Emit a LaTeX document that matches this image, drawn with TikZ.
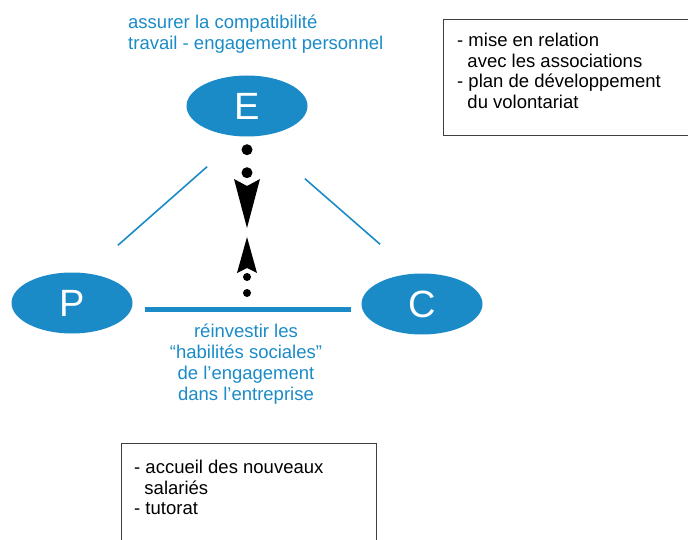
\documentclass[tikz,border=0pt]{standalone}
\usepackage{fontspec}
\setmainfont{Liberation Sans}
\usetikzlibrary{shapes.geometric, arrows.meta, positioning}
\definecolor{blue1}{RGB}{26, 139, 199}

\tikzset{
  pole/.style={ellipse, fill=blue1, minimum width=121pt, minimum height=61pt, inner sep=0pt, text=white, font=\fontsize{38}{38}\selectfont},
  thin link/.style={draw=blue1, line width=1.6pt},
  thick link/.style={draw=blue1, line width=5pt},
  bluetext/.style={text=blue1, inner sep=0pt, font=\fontsize{18.5}{21}\selectfont},
  listbox/.style={draw=black!75, line width=1pt, inner sep=0pt, anchor=north west},
  listtext/.style={inner sep=0pt, align=left, anchor=north west, font=\fontsize{18.5}{20.5}\selectfont},
  dotline/.style={line cap=round, dash pattern=on 0pt off #1},
}

\begin{document}
\begin{tikzpicture}[x=1pt, y=-1pt]
  \useasboundingbox (0,0) rectangle (688,540);
  \clip (0,0) rectangle (688,540);

  % the three poles
  \node[pole] (E) at (247,106) {E};
  \node[pole] (P) at (72,303) {P};
  \node[pole] (C) at (422,304) {C};

  % links between poles
  \draw[thin link] ([xshift=3pt, yshift=-39pt]E.south west) -- ([xshift=3pt, yshift=36pt]P.north east);
  \draw[thin link] ([xshift=15pt, yshift=-51pt]E.south east) -- ([xshift=1pt, yshift=38pt]C.north west);
  \draw[thick link] ([xshift=12pt, yshift=-6pt]P.east) -- ([xshift=-10pt, yshift=-5pt]C.west);

  % dotted arrows meeting in the middle
  \coordinate (meet) at (247,232);
  \draw[dotline=23pt, line width=11pt, -{Stealth[length=49pt, width=26pt, inset=7pt, line width=0pt]}]
    ([yshift=-13pt]E.south) -- ([yshift=4pt]meet);
  \draw[dotline=16pt, line width=8pt, -{Stealth[length=36pt, width=20pt, inset=5pt, line width=0pt]}]
    ([yshift=-61pt]meet) -- ([yshift=-5pt]meet);

  % labels
  \node[bluetext, align=left, anchor=north west] (goalE) at (128,15)
    {assurer la compatibilité\\travail - engagement personnel};
  \node[bluetext, align=center, anchor=north] (goalPC) at (246,324)
    {réinvestir les\\“habilités sociales”\\de l’engagement\\dans l’entreprise};

  % boxes
  \node[listbox, minimum width=260pt, minimum height=116pt] (assoc) at (443,19) {};
  \node[listtext, below right=14pt and 14pt of assoc.north west] (assoctext)
    {- mise en relation\\\ \ avec les associations\\- plan de développement\\\ \ du volontariat};
  \node[listbox, minimum width=255pt, minimum height=120pt] (newcomers) at (121,443) {};
  \node[listtext, below right=17pt and 13pt of newcomers.north west] (newcomerstext)
    {- accueil des nouveaux\\\ \ salariés\\- tutorat};
\end{tikzpicture}
\end{document}
